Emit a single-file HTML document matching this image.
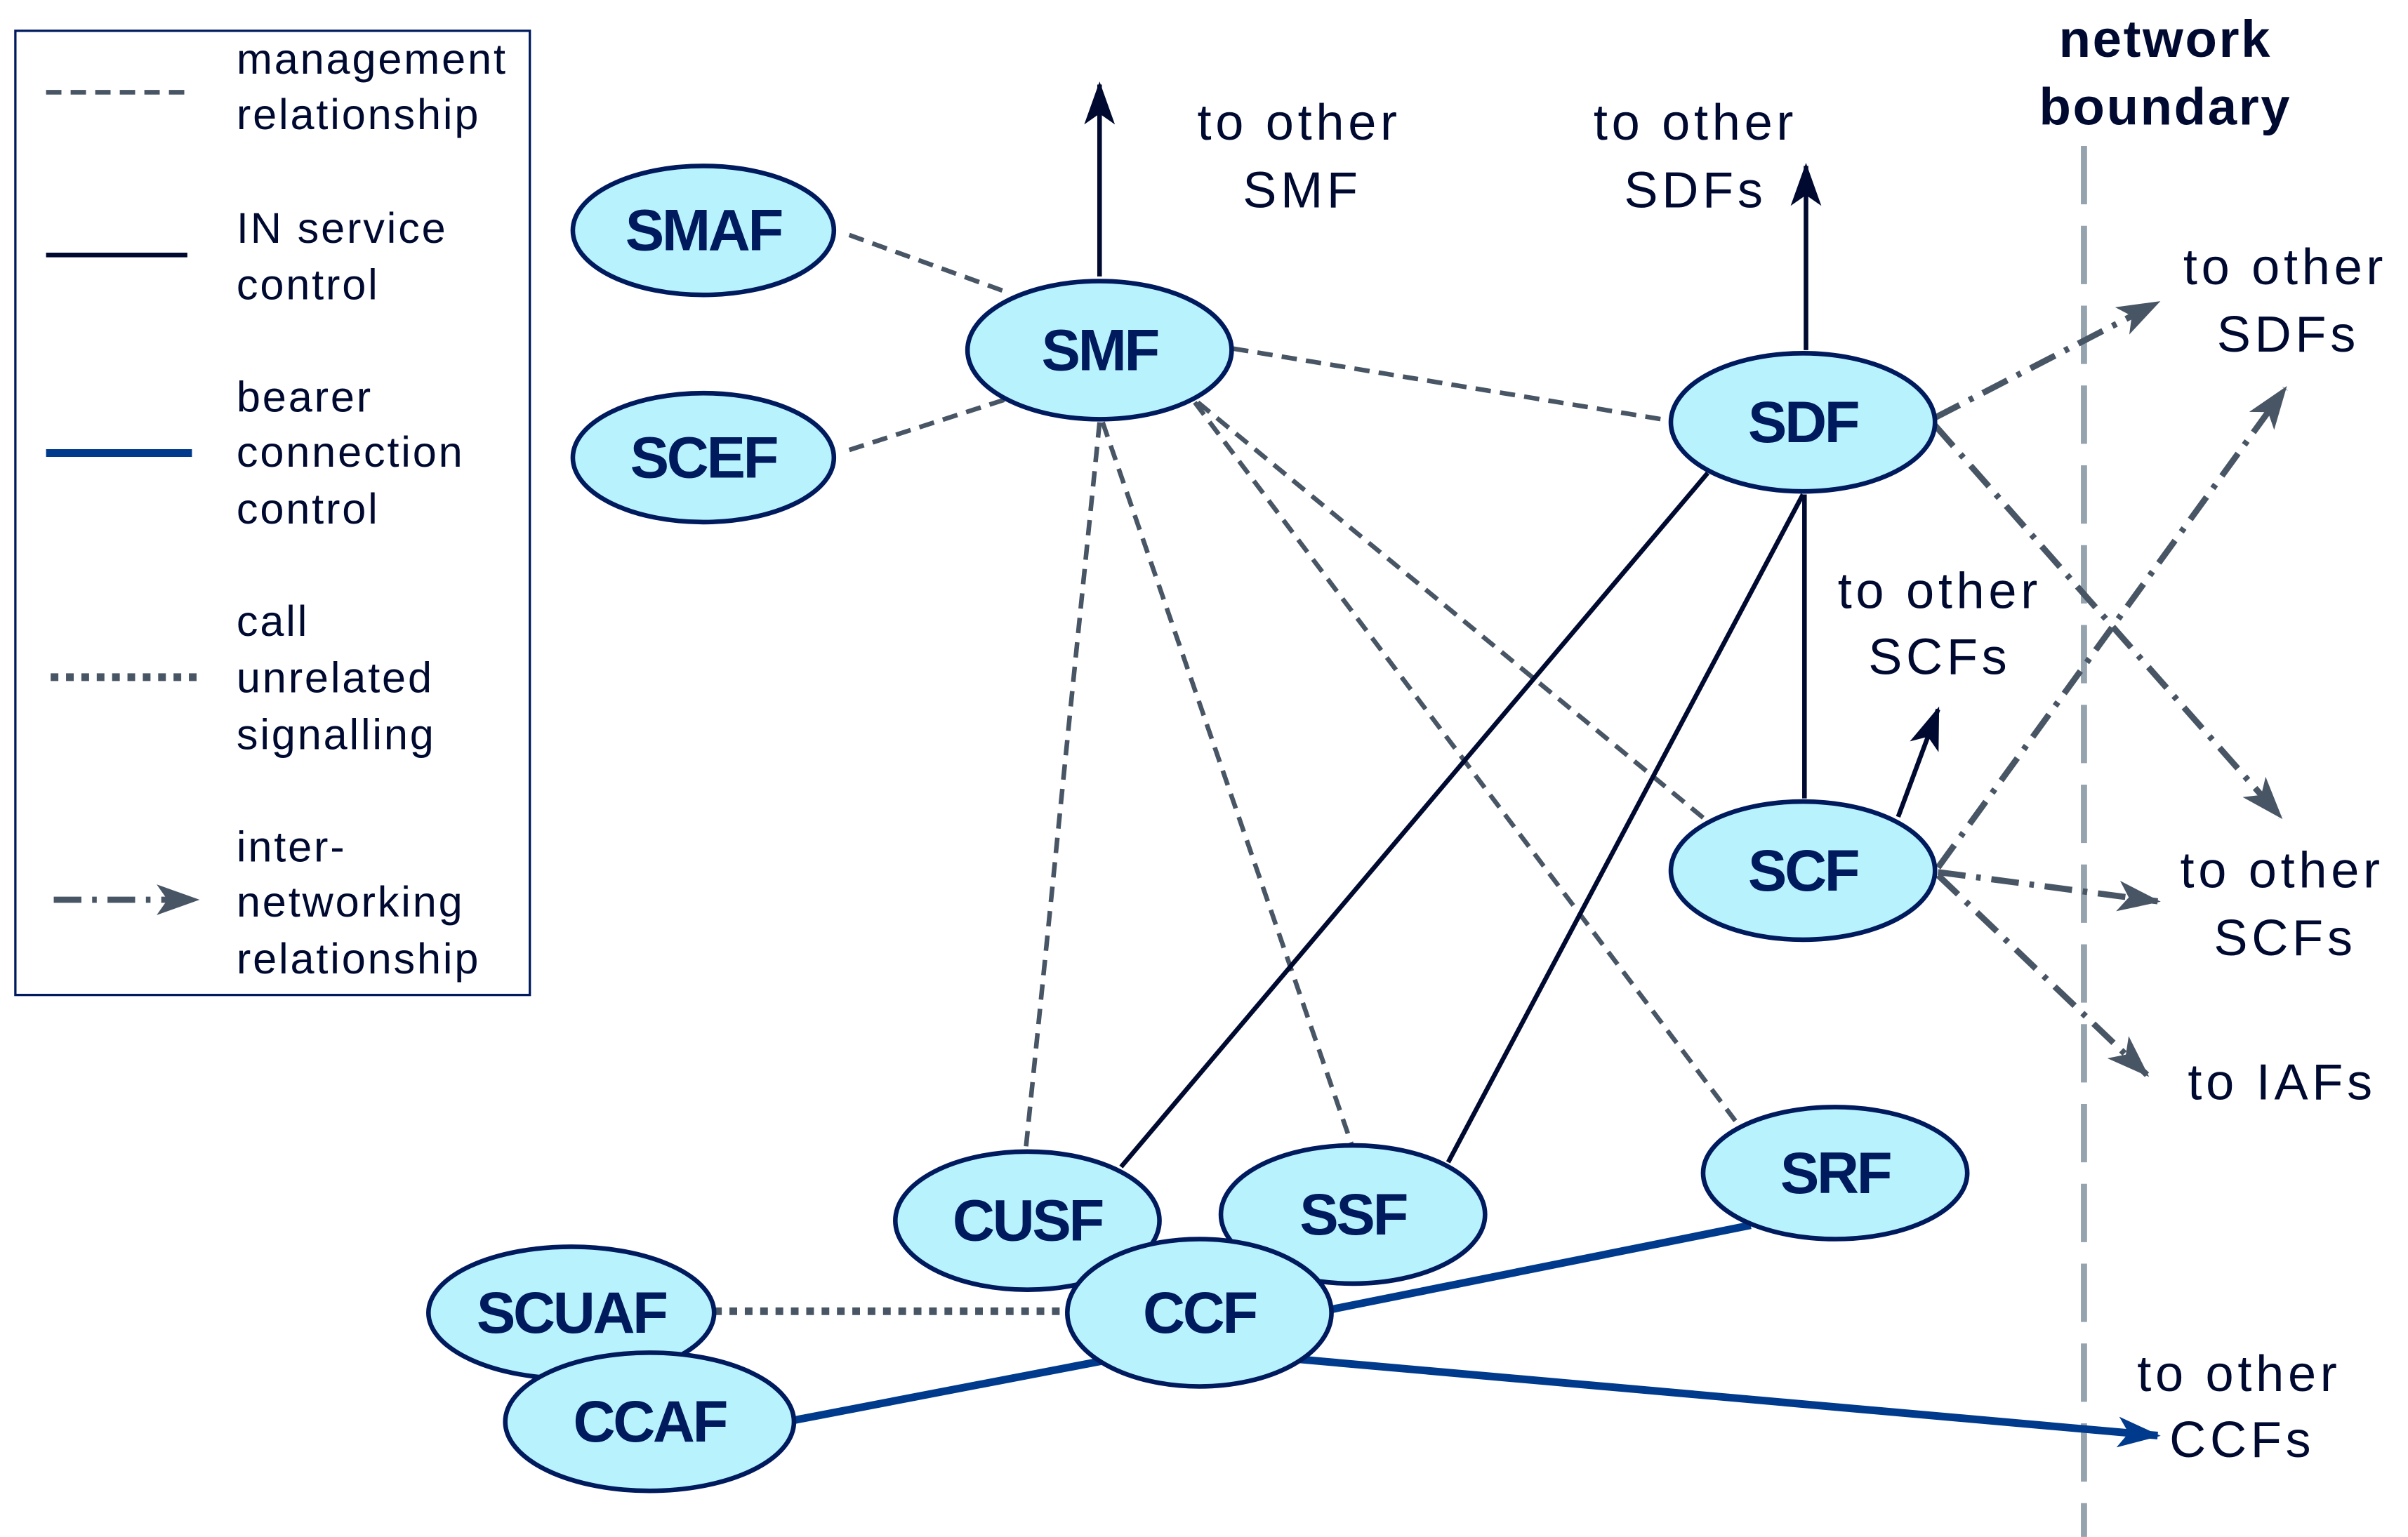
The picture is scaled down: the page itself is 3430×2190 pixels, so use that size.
<!DOCTYPE html>
<html><head><meta charset="utf-8"><style>
html,body{margin:0;padding:0;background:#fff}
svg{display:block}
.n{font-family:"Liberation Sans",sans-serif;font-weight:bold;font-size:38px;fill:#001a5e;text-anchor:middle;letter-spacing:-1.5px}
.t{font-family:"Liberation Sans",sans-serif;font-size:33px;fill:#000a30;text-anchor:middle;letter-spacing:2.6px}
.l{font-family:"Liberation Sans",sans-serif;font-size:28px;fill:#000a30;letter-spacing:1.3px}
</style></head><body>
<svg width="3430" height="2190" viewBox="0 0 1568 1001" xmlns="http://www.w3.org/2000/svg">
<defs>
<marker id="aN" markerWidth="30" markerHeight="20" refX="26" refY="10" orient="auto" markerUnits="userSpaceOnUse"><path d="M0,0 L28,10 L0,20 L7,10 Z" fill="#000a30"/></marker>
<marker id="aG" markerWidth="30" markerHeight="20" refX="26" refY="10" orient="auto" markerUnits="userSpaceOnUse"><path d="M0,0 L28,10 L0,20 L7,10 Z" fill="#485565"/></marker>
<marker id="aB" markerWidth="30" markerHeight="20" refX="26" refY="10" orient="auto" markerUnits="userSpaceOnUse"><path d="M0,0 L28,10 L0,20 L7,10 Z" fill="#003a8c"/></marker>
</defs>
<line x1="1357" y1="95" x2="1357" y2="1001" stroke="#94a3ae" stroke-width="4" stroke-dasharray="38,14"/>
<g stroke="#485565" stroke-width="3" stroke-dasharray="10,6" fill="none">
<line x1="553" y1="153" x2="655" y2="190"/>
<line x1="553" y1="293" x2="655" y2="260"/>
<line x1="803" y1="227" x2="1088" y2="274"/>
<line x1="716" y1="275" x2="668" y2="748"/>
<line x1="718" y1="275" x2="880" y2="745"/>
<line x1="778" y1="262" x2="1130" y2="730"/>
<line x1="780" y1="262" x2="1112" y2="535"/>
</g>
<g stroke="#000a30" stroke-width="3" fill="none">
<line x1="716" y1="180" x2="716" y2="55" marker-end="url(#aN)"/>
<line x1="1176" y1="228" x2="1176" y2="108" marker-end="url(#aN)"/>
<line x1="1112" y1="308" x2="730" y2="760"/>
<line x1="1174" y1="322" x2="943" y2="757"/>
<line x1="1175" y1="322" x2="1175" y2="520"/>
<line x1="1236" y1="532" x2="1262" y2="462" marker-end="url(#aN)"/>
</g>
<g stroke="#485565" stroke-width="4" stroke-dasharray="18,7,3,7" fill="none">
<line x1="1260" y1="272" x2="1405" y2="197" marker-end="url(#aG)"/>
<line x1="1260" y1="277" x2="1485" y2="532" marker-end="url(#aG)"/>
<line x1="1262" y1="565" x2="1488" y2="253" marker-end="url(#aG)"/>
<line x1="1262" y1="568" x2="1405" y2="587" marker-end="url(#aG)"/>
<line x1="1262" y1="570" x2="1398" y2="700" marker-end="url(#aG)"/>
</g>
<line x1="465" y1="854" x2="697" y2="854" stroke="#485565" stroke-width="5" stroke-dasharray="5,5"/>
<g stroke="#003a8c" stroke-width="5" fill="none">
<line x1="866" y1="853" x2="1140" y2="798"/>
<line x1="517" y1="925" x2="725" y2="885"/>
<line x1="842" y1="885" x2="1405" y2="935" marker-end="url(#aB)"/>
</g>
<g fill="#b8f2fc" stroke="#001a5e" stroke-width="3">
<ellipse cx="458" cy="150" rx="85" ry="42"/>
<ellipse cx="458" cy="298" rx="85" ry="42"/>
<ellipse cx="716" cy="228" rx="86" ry="45"/>
<ellipse cx="1174" cy="275" rx="86" ry="45"/>
<ellipse cx="1174" cy="567" rx="86" ry="45"/>
<ellipse cx="1195" cy="764" rx="86" ry="43"/>
<ellipse cx="669" cy="795" rx="86" ry="45"/>
<ellipse cx="881" cy="791" rx="86" ry="45"/>
<ellipse cx="372" cy="855" rx="93" ry="43"/>
<ellipse cx="423" cy="926" rx="94" ry="45"/>
<ellipse cx="781" cy="855" rx="86" ry="48"/>
</g>
<g>
<text x="458" y="163" class="n">SMAF</text>
<text x="458" y="311" class="n">SCEF</text>
<text x="716" y="241" class="n">SMF</text>
<text x="1174" y="288" class="n">SDF</text>
<text x="1174" y="580" class="n">SCF</text>
<text x="1195" y="777" class="n">SRF</text>
<text x="669" y="808" class="n">CUSF</text>
<text x="881" y="804" class="n">SSF</text>
<text x="372" y="868" class="n">SCUAF</text>
<text x="423" y="939" class="n">CCAF</text>
<text x="781" y="868" class="n">CCF</text>
</g>
<text class="t" x="846" y="91">to other</text><text class="t" x="848" y="135">SMF</text>
<text class="t" x="1104" y="91">to other</text><text class="t" x="1104" y="135">SDFs</text>
<text class="t" x="1410" y="37" style="font-weight:bold;font-size:34px;letter-spacing:1.2px">network</text><text class="t" x="1410" y="81" style="font-weight:bold;font-size:34px;letter-spacing:1.2px">boundary</text>
<text class="t" x="1488" y="185">to other</text><text class="t" x="1490" y="229">SDFs</text>
<text class="t" x="1263" y="396">to other</text><text class="t" x="1263" y="439">SCFs</text>
<text class="t" x="1486" y="578">to other</text><text class="t" x="1488" y="622">SCFs</text>
<text class="t" x="1486" y="716">to IAFs</text>
<text class="t" x="1458" y="906">to other</text><text class="t" x="1460" y="949">CCFs</text>
<rect x="10" y="20" width="335" height="628" fill="none" stroke="#001a5e" stroke-width="1.5"/>
<line x1="30" y1="60" x2="120" y2="60" stroke="#485565" stroke-width="3" stroke-dasharray="10,6"/>
<line x1="30" y1="166" x2="122" y2="166" stroke="#000a30" stroke-width="3"/>
<line x1="30" y1="295" x2="125" y2="295" stroke="#003a8c" stroke-width="5"/>
<line x1="33" y1="441" x2="128" y2="441" stroke="#485565" stroke-width="5" stroke-dasharray="5,5"/>
<line x1="35" y1="586" x2="128" y2="586" stroke="#485565" stroke-width="4" stroke-dasharray="18,7,3,7" marker-end="url(#aG)"/>
<text class="l" x="154" y="48">management</text><text class="l" x="154" y="84">relationship</text>
<text class="l" x="154" y="158">IN service</text><text class="l" x="154" y="195">control</text>
<text class="l" x="154" y="268">bearer</text><text class="l" x="154" y="304">connection</text><text class="l" x="154" y="341">control</text>
<text class="l" x="154" y="414">call</text><text class="l" x="154" y="451">unrelated</text><text class="l" x="154" y="488">signalling</text>
<text class="l" x="154" y="561">inter-</text><text class="l" x="154" y="597">networking</text><text class="l" x="154" y="634">relationship</text>
</svg>
</body></html>
